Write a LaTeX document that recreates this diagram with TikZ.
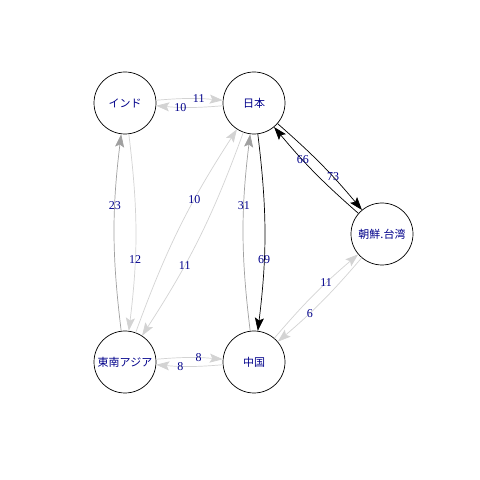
\documentclass[tikz,border=0pt]{standalone}
\usepackage{fontspec}
\setmainfont{Liberation Serif}
\newfontfamily\jpfont{Noto Sans CJK JP}
\usetikzlibrary{arrows.meta}
\definecolor{lblue}{HTML}{00008B}
\definecolor{wdark}{HTML}{000000}
\definecolor{wmid}{HTML}{A0A0A0}
\definecolor{wlight}{HTML}{D3D3D3}
\tikzset{
  vtx/.style={circle, draw=black, line width=0.7pt, fill=white, minimum size=62pt, inner sep=0pt, font=\jpfont\fontsize{11}{12}\selectfont, text=lblue},
  edg/.style={line width=0.7pt, -{Stealth[length=13pt,width=9pt,inset=2.5pt]}},
  elab/.style={pos=0.65, inner sep=0pt, font=\fontsize{12}{13}\selectfont, text=lblue},
}
\begin{document}
\begin{tikzpicture}[x=1pt,y=1pt]
\useasboundingbox (0,0) rectangle (480,480);
\node[vtx] (ind) at (125,377) {インド};
\node[vtx] (jp) at (254,377) {日本};
\node[vtx] (kt) at (382,246) {朝鮮.台湾};
\node[vtx] (sea) at (125,118) {東南アジア};
\node[vtx] (cn) at (254,118) {中国};
% India - Japan
\draw[edg, wlight] (ind) to[bend left=5] node[elab] {11} (jp);
\draw[edg, wlight] (jp) to[bend left=5] node[elab] {10} (ind);
% India - SE Asia
\draw[edg, wmid] (sea) to[bend left=7] node[elab] {23} (ind);
\draw[edg, wlight] (ind) to[bend left=7] node[elab] {12} (sea);
% Japan - SE Asia
\draw[edg, wlight] (sea) to[bend left=6.5] node[elab] {10} (jp);
\draw[edg, wlight] (jp) to[bend left=6.5] node[elab] {11} (sea);
% Japan - China
\draw[edg, wmid] (cn) to[bend left=7] node[elab] {31} (jp);
\draw[edg, wdark] (jp) to[bend left=7] node[elab] {69} (cn);
% Japan - Korea/Taiwan
\draw[edg, wdark] (kt) to[bend left=4.5] node[elab] {66} (jp);
\draw[edg, wdark] (jp) to[bend left=4.5] node[elab] {73} (kt);
% China - Korea/Taiwan
\draw[edg, wlight] (cn) to[bend left=4.5] node[elab] {11} (kt);
\draw[edg, wlight] (kt) to[bend left=4.5] node[elab] {6} (cn);
% SE Asia - China
\draw[edg, wlight] (sea) to[bend left=5] node[elab] {8} (cn);
\draw[edg, wlight] (cn) to[bend left=5] node[elab] {8} (sea);
\end{tikzpicture}
\end{document}
